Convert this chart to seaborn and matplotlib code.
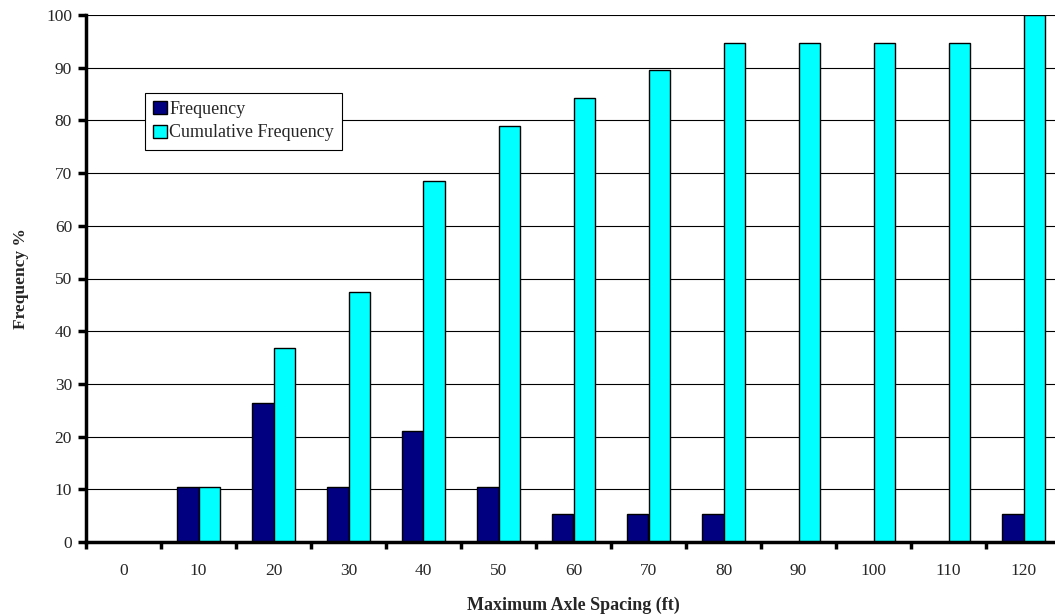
import matplotlib
matplotlib.use("Agg")
import matplotlib.pyplot as plt
import matplotlib.ticker as mticker
import numpy as np
import pandas as pd
import seaborn as sns

# Maximum axle spacing bins (ft) and the share of vehicles in each bin
spacing = ["0", "10", "20", "30", "40", "50", "60", "70", "80", "90", "100", "110", "120"]
frequency = [0.0, 10.53, 26.32, 10.53, 21.05, 10.53, 5.26, 5.26, 5.26, 0.0, 0.0, 0.0, 5.26]
cumulative = [0.0, 10.53, 36.84, 47.37, 68.42, 78.95, 84.21, 89.47, 94.74, 94.74, 94.74, 94.74, 100.0]
series_names = ["Frequency", "Cumulative Frequency"]
series_colors = ["#000080", "#00FFFF"]

df = pd.DataFrame({
    "spacing": spacing * 2,
    "value": frequency + cumulative,
    "series": [series_names[0]] * len(spacing) + [series_names[1]] * len(spacing),
})

sns.set_style("white")
plt.rcParams["font.family"] = ["Liberation Serif", "DejaVu Serif"]

fig = plt.figure(figsize=(10.55, 6.15), dpi=100)
ax = fig.add_axes([86 / 1055, 73 / 615, 975 / 1055, 527 / 615])

sns.barplot(
    data=df, x="spacing", y="value", hue="series", order=spacing,
    hue_order=series_names, palette=dict(zip(series_names, series_colors)),
    width=0.58, edgecolor="black", linewidth=1.0, saturation=1, ax=ax,
)

ax.set_xlim(-0.5, len(spacing) - 0.5)
ax.set_ylim(0, 100)
ax.set_yticks(np.arange(0, 101, 10))
ax.yaxis.grid(True, color="black", linewidth=0.8)
ax.set_axisbelow(True)

for side in ("top", "right"):
    ax.spines[side].set_visible(False)
for side in ("left", "bottom"):
    ax.spines[side].set_linewidth(2.5)
    ax.spines[side].set_color("black")

ax.xaxis.set_minor_locator(mticker.FixedLocator(np.arange(-0.5, len(spacing), 1.0)))
ax.tick_params(axis="x", which="major", length=0, pad=15, labelsize=12.5)
ax.tick_params(axis="x", which="minor", length=5, width=2.5, color="black", direction="out", bottom=True)
ax.tick_params(axis="y", which="major", length=6, width=2.5, color="black", direction="out",
               left=True, pad=4, labelsize=12.5)

ax.set_xlabel("Maximum Axle Spacing (ft)", fontsize=13, fontweight="bold", labelpad=13)
ax.set_ylabel("Frequency %", fontsize=12.5, fontweight="bold", labelpad=12)

leg = ax.legend(
    loc="upper left", bbox_to_anchor=(59 / 975, (542 - 93) / 527), borderaxespad=0,
    frameon=True, fancybox=False, edgecolor="black", fontsize=13,
    handlelength=0.75, handleheight=0.75, handletextpad=0.15, borderpad=0.45,
    labelspacing=0.35, title=None,
)
leg.get_frame().set_linewidth(0.8)
leg.get_frame().set_facecolor("white")
leg.get_frame().set_alpha(1)

fig.savefig("out.png", dpi=100)
